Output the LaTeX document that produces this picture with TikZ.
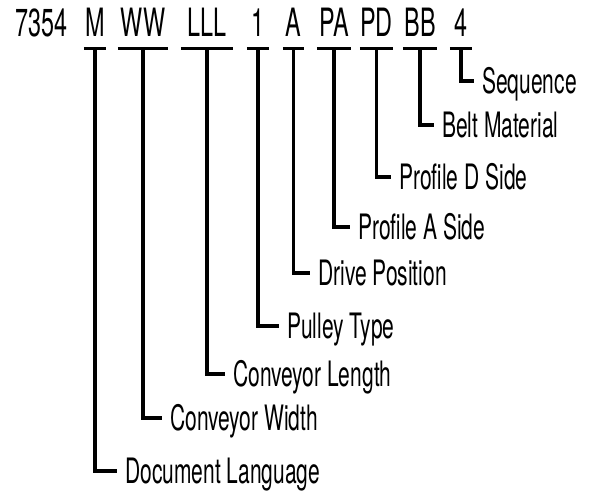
\documentclass[tikz,border=0pt]{standalone}
\usepackage{fontspec}
\setmainfont{TeX Gyre Heros}[FakeStretch=0.6]
\begin{document}
\begin{tikzpicture}[x=1pt,y=1pt,
  token/.style={anchor=base,inner xsep=0pt,inner ysep=11pt,text depth=0pt,font=\fontsize{39}{42}\selectfont},
  lbl/.style={anchor=west,inner xsep=8pt,inner ysep=0pt,text height=25pt,text depth=0pt,font=\fontsize{35}{38}\selectfont},
  ul/.style={line width=3.2pt},
  conn/.style={line width=3.2pt,line join=miter}]
\useasboundingbox (0,0) rectangle (595,-495);
% code tokens
\node[anchor=base west,inner sep=0pt,font=\fontsize{39}{42}\selectfont] (code) at (15,-37) {7354};
\node[token,minimum width=22pt] (tM) at (95,-37) {M};
\node[token,minimum width=50pt] (tW) at (143,-37) {WW};
\node[token,minimum width=52pt] (tL) at (207,-37) {LLL};
\node[token,minimum width=22pt] (t1) at (258,-37) {1};
\node[token,minimum width=21pt] (tA) at (293.5,-37) {A};
\node[token,minimum width=34pt] (tPA) at (334,-37) {PA};
\node[token,minimum width=33pt] (tPD) at (376.5,-37) {PD};
\node[token,minimum width=34pt] (tBB) at (420,-37) {BB};
\node[token,minimum width=22pt] (t4) at (461,-37) {4};
\foreach \t in {tM,tW,tL,t1,tA,tPA,tPD,tBB,t4}
  \draw[ul] (\t.south west) -- (\t.south east);
% labels
\node[lbl] (lSeq) at (474,-81) {Sequence};
\node[lbl] (lBelt) at (434,-125) {Belt Material};
\node[lbl] (lPD) at (391,-177) {Profile D Side};
\node[lbl] (lPA) at (350,-227) {Profile A Side};
\node[lbl] (lDrive) at (310,-273) {Drive Position};
\node[lbl] (lPul) at (279,-326) {Pulley Type};
\node[lbl] (lCL) at (225,-374) {Conveyor Length};
\node[lbl] (lCW) at (162,-418) {Conveyor Width};
\node[lbl] (lDL) at (117,-471) {Document Language};
% connectors
\draw[conn] (t4.south) |- (lSeq.west);
\draw[conn] (tBB.south) |- (lBelt.west);
\draw[conn] (tPD.south) |- (lPD.west);
\draw[conn] (tPA.south) |- (lPA.west);
\draw[conn] (tA.south) |- (lDrive.west);
\draw[conn] (t1.south) |- (lPul.west);
\draw[conn] (tL.south) |- (lCL.west);
\draw[conn] (tW.south) |- (lCW.west);
\draw[conn] (tM.south) |- (lDL.west);
\end{tikzpicture}
\end{document}
